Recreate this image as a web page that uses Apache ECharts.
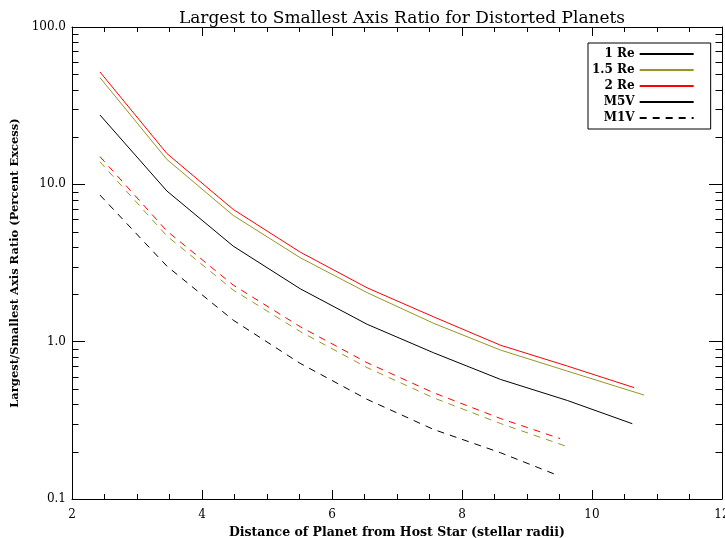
<!DOCTYPE html>
<html><head><meta charset="utf-8">
<script src="https://cdn.jsdelivr.net/npm/echarts@6/dist/echarts.min.js"></script>
<style>html,body{margin:0;padding:0;background:#fff}#c{width:725px;height:538px}</style>
</head><body><div id="c"></div>
<script>
// ---- data ----
const legendNames = ['1 Re', '1.5 Re', '2 Re', 'M5V', 'M1V'];

const x_1Re_M5V  = [2.43, 3.46, 4.48, 5.51, 6.54, 7.56, 8.59, 9.62, 10.62];
const y_1Re_M5V  = [27.6, 9.07, 4.05, 2.17, 1.29, 0.851, 0.576, 0.423, 0.301];

const x_15Re_M5V = [2.43, 3.46, 4.48, 5.51, 6.54, 7.56, 8.59, 9.62, 10.80];
const y_15Re_M5V = [47.7, 14.4, 6.35, 3.42, 2.05, 1.31, 0.885, 0.65, 0.458];

const x_2Re_M5V  = [2.43, 3.46, 4.48, 5.51, 6.54, 7.56, 8.59, 9.62, 10.65];
const y_2Re_M5V  = [51.8, 15.7, 6.93, 3.71, 2.20, 1.44, 0.95, 0.70, 0.51];

const x_1Re_M1V  = [2.43, 3.46, 4.48, 5.51, 6.54, 7.56, 8.59, 9.48];
const y_1Re_M1V  = [8.55, 3.02, 1.37, 0.728, 0.43, 0.277, 0.197, 0.141];

const x_15Re_M1V = [2.43, 3.46, 4.48, 5.51, 6.54, 7.56, 8.59, 9.65];
const y_15Re_M1V = [13.9, 4.7, 2.13, 1.16, 0.684, 0.44, 0.302, 0.213];

const x_2Re_M1V  = [2.43, 3.46, 4.48, 5.51, 6.54, 7.56, 8.59, 9.51];
const y_2Re_M1V  = [15.0, 5.05, 2.29, 1.245, 0.735, 0.474, 0.325, 0.242];

const yMinorMultipliers = [2, 3, 4, 5, 6, 7, 8, 9];
const yDecades = [0.1, 1, 10];

// ---- chart ----
const FONT = 'DejaVu Serif';
const RED = '#ff0000', OLIVE = '#979526', BLACK = '#000000';
const pairs = (xs, ys) => xs.map((x, i) => [x, ys[i]]);

function lineSeries(name, xs, ys, color, dashed) {
  return {
    name: name, type: 'line', xAxisIndex: 0, yAxisIndex: 0,
    data: pairs(xs, ys), symbol: 'none', silent: true, animation: false,
    lineStyle: { color: color, width: 1, type: dashed ? [7, 6] : 'solid' },
    itemStyle: { color: color }
  };
}

const chart = echarts.init(document.getElementById('c'), null, { renderer: 'canvas' });

const xCommon = {
  type: 'value', min: 2, max: 12, interval: 2,
  axisLine: { show: true, lineStyle: { color: '#000', width: 1 } },
  axisTick: { show: true, inside: true, length: 9, lineStyle: { color: '#000' } },
  minorTick: { show: true, splitNumber: 4, length: 5, lineStyle: { color: '#000' } },
  splitLine: { show: false }
};
const yCommon = {
  type: 'log', logBase: 10, min: 0.1, max: 100,
  axisLine: { show: true, lineStyle: { color: '#000', width: 1 } },
  axisTick: { show: true, inside: true, length: 13, lineStyle: { color: '#000' } },
  splitLine: { show: false }
};

chart.setOption({
  backgroundColor: '#fff',
  animation: false,
  title: {
    text: 'Largest to Smallest Axis Ratio for Distorted Planets',
    left: 397, top: 5, textAlign: 'center',
    textStyle: { fontFamily: FONT, fontSize: 17, fontWeight: 'normal', color: '#000' }
  },
  grid: { left: 72, right: 3, top: 27, bottom: 39, containLabel: false, outerBoundsMode: 'none' },
  xAxis: [
    Object.assign({}, xCommon, {
      position: 'bottom',
      name: 'Distance of Planet from Host Star (stellar radii)',
      nameLocation: 'middle', nameGap: 21,
      nameTextStyle: { fontFamily: FONT, fontSize: 12.5, fontWeight: 'bold', color: '#000' },
      axisLabel: { show: true, margin: 10, fontFamily: FONT, fontSize: 12, color: '#000' }
    }),
    Object.assign({}, xCommon, { position: 'top', axisLabel: { show: false } })
  ],
  yAxis: [
    Object.assign({}, yCommon, {
      position: 'left',
      name: 'Largest/Smallest Axis Ratio (Percent Excess)',
      nameLocation: 'middle', nameGap: 46,
      nameTextStyle: { fontFamily: FONT, fontSize: 11.5, fontWeight: 'bold', color: '#000' },
      axisLabel: { show: true, margin: 6, fontFamily: FONT, fontSize: 12, color: '#000',
                   formatter: v => Number(v).toFixed(1) }
    }),
    Object.assign({}, yCommon, { position: 'right', axisLabel: { show: false } })
  ],
  legend: {
    data: legendNames,
    orient: 'vertical', left: 588, top: 43, align: 'right',
    itemWidth: 54, itemHeight: 10, itemGap: 4,
    backgroundColor: '#fff', borderColor: '#000', borderWidth: 1, borderRadius: 0,
    padding: [5, 16, 5, 4],
    selectedMode: false,
    itemStyle: { color: 'rgba(0,0,0,0)', borderWidth: 0, opacity: 0 },
    formatter: n => '{a|' + n + '}',
    textStyle: {
      fontFamily: FONT, fontSize: 12, color: '#000', fontWeight: 'bold',
      rich: { a: { width: 46, align: 'right', fontFamily: FONT, fontSize: 12, fontWeight: 'bold', color: '#000' } }
    }
  },
  series: [
    lineSeries('1 Re', x_1Re_M5V, y_1Re_M5V, BLACK, false),
    lineSeries('1.5 Re', x_15Re_M5V, y_15Re_M5V, OLIVE, false),
    lineSeries('2 Re', x_2Re_M5V, y_2Re_M5V, RED, false),
    lineSeries('M5V', [], [], BLACK, false),
    lineSeries('M1V', x_1Re_M1V, y_1Re_M1V, BLACK, true),
    lineSeries('1.5 Re M1V', x_15Re_M1V, y_15Re_M1V, OLIVE, true),
    lineSeries('2 Re M1V', x_2Re_M1V, y_2Re_M1V, RED, true)
  ]
});

// log minor ticks (2..9 per decade) placed through the library's own y scale
const graphics = [];
const xLeft = chart.convertToPixel({ xAxisIndex: 0 }, 2);
const xRight = chart.convertToPixel({ xAxisIndex: 0 }, 12);
yDecades.forEach(d => {
  yMinorMultipliers.forEach(k => {
    const py = Math.round(chart.convertToPixel({ yAxisIndex: 0 }, d * k)) + 0.5;
    graphics.push({ type: 'line', silent: true,
      shape: { x1: xLeft, y1: py, x2: xLeft + 6.5, y2: py },
      style: { stroke: '#000', lineWidth: 1 } });
    graphics.push({ type: 'line', silent: true,
      shape: { x1: xRight - 6.5, y1: py, x2: xRight, y2: py },
      style: { stroke: '#000', lineWidth: 1 } });
  });
});
chart.setOption({ graphic: graphics });
</script>
</body></html>
